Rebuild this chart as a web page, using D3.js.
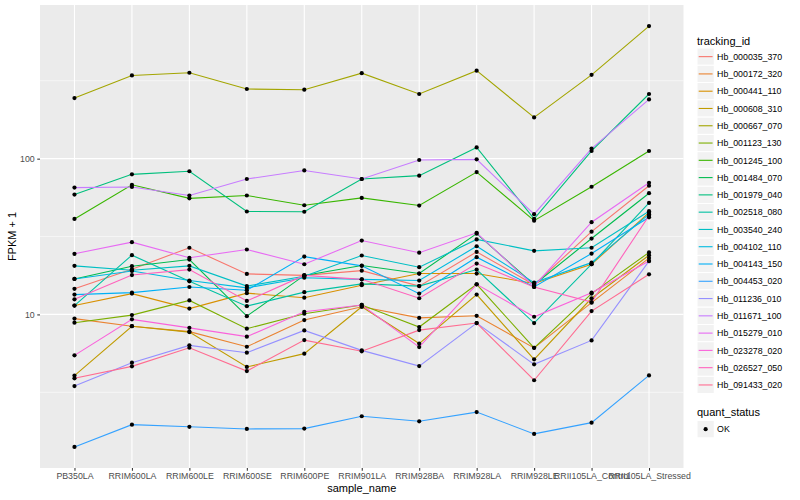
<!DOCTYPE html>
<html>
<head>
<meta charset="utf-8">
<script src="https://cdn.jsdelivr.net/npm/d3@7"></script>
<style>
  body { margin: 0; background: #fff; }
  text { font-family: "Liberation Sans", Arial, sans-serif; }
</style>
</head>
<body>
<div id="chart"></div>
<script>
// sample names along the x axis
var samples = ["PB350LA", "RRIM600LA", "RRIM600LE", "RRIM600SE", "RRIM600PE", "RRIM901LA",
  "RRIM928BA", "RRIM928LA", "RRIM928LE", "RRII105LA_Control", "RRII105LA_Stressed"];

var trackingIds = ["Hb_000035_370", "Hb_000172_320", "Hb_000441_110", "Hb_000608_310", "Hb_000667_070",
  "Hb_001123_130", "Hb_001245_100", "Hb_001484_070", "Hb_001979_040", "Hb_002518_080",
  "Hb_003540_240", "Hb_004102_110", "Hb_004143_150", "Hb_004453_020", "Hb_011236_010",
  "Hb_011671_100", "Hb_015279_010", "Hb_023278_020", "Hb_026527_050", "Hb_091433_020"];

// FPKM + 1, one array per tracking id (same order as samples)
var hb000035_370 = [14.6, 19.5, 26.8, 18.2, 17.8, 19.1, 15.2, 25.2, 15.5, 34.0, 67];
var hb000172_320 = [9.4, 8.4, 7.75, 6.2, 9.2, 11.2, 9.5, 9.8, 6.1, 11.9, 23];
var hb000441_110 = [11.4, 13.6, 10.9, 13.7, 12.8, 15.4, 18.3, 18.3, 15.8, 21.0, 45];
var hb000608_310 = [4.05, 8.4, 7.7, 4.6, 5.6, 11.2, 6.5, 13.4, 5.15, 12.7, 24];
var hb000667_070 = [245, 342, 356, 280, 277, 354, 260, 367, 184, 345, 710];
var hb001123_130 = [8.85, 9.9, 12.3, 8.1, 10.1, 11.5, 8.3, 15.6, 6.1, 13.6, 25];
var hb001245_100 = [41, 68, 55.6, 58, 50.2, 56, 50, 82, 40, 66, 112];
var hb001484_070 = [16.9, 20.4, 22.5, 9.75, 17.8, 20.6, 18.3, 33, 15.5, 30.7, 60];
var hb001979_040 = [58.8, 79.3, 83, 45.8, 45.6, 74, 77.8, 118, 41, 112, 260];
var hb002518_080 = [11.4, 24, 16.3, 11.3, 13.9, 15.7, 15.2, 19.4, 8.8, 21, 52];
var hb003540_240 = [20.5, 19.2, 20.5, 15.2, 17.6, 23.9, 20.1, 30.3, 25.6, 26.8, 46];
var hb004102_110 = [16.9, 19, 16.5, 14.8, 17.2, 16.8, 16.5, 27.4, 16, 21.5, 44];
var hb004143_150 = [13.4, 13.8, 15.0, 14.3, 23.5, 20.5, 13.6, 23.3, 15, 24.6, 42];
var hb004453_020 = [1.41, 1.96, 1.90, 1.84, 1.85, 2.22, 2.06, 2.36, 1.71, 2.02, 4.06];
var hb011236_010 = [3.47, 4.9, 6.33, 5.68, 7.89, 5.88, 4.66, 8.8, 4.78, 6.81, 22];
var hb011671_100 = [65.2, 65.8, 58, 74, 84, 74, 98, 99, 44, 116, 240];
var hb015279_010 = [24.5, 29.1, 23.1, 26.1, 21.0, 29.8, 24.9, 33.4, 15.2, 39.1, 70];
var hb023278_020 = [5.46, 9.3, 8.2, 7.2, 10.4, 11.5, 6.17, 15.6, 9.66, 13.8, 22];
var hb026527_050 = [12.5, 17.9, 19.4, 12.2, 17.8, 16.8, 12.7, 21.2, 15, 12.0, 43];
var hb091433_020 = [3.89, 4.64, 6.11, 4.33, 6.84, 5.8, 7.93, 8.8, 3.78, 10.5, 18.1];

var seriesValues = [hb000035_370, hb000172_320, hb000441_110, hb000608_310, hb000667_070,
  hb001123_130, hb001245_100, hb001484_070, hb001979_040, hb002518_080,
  hb003540_240, hb004102_110, hb004143_150, hb004453_020, hb011236_010,
  hb011671_100, hb015279_010, hb023278_020, hb026527_050, hb091433_020];

var quantStatus = ["OK"];

// ggplot-style hue palette
var huePalette = ["#F8766D", "#EA8331", "#D89000", "#C09B00", "#A3A500", "#7CAE00", "#39B600",
  "#00BB4E", "#00BF7D", "#00C1A3", "#00BFC4", "#00BAE0", "#00B0F6", "#35A2FF", "#9590FF",
  "#C77CFF", "#E76BF3", "#FA62DB", "#FF62BC", "#FF6C91"];

var width = 800;
var height = 500;
var panel = { left: 40, right: 683.5, top: 5, bottom: 468 };

var svg = d3.select("#chart")
  .append("svg")
  .attr("width", width)
  .attr("height", height);

var series = trackingIds.map(function(id, i) {
  return {
    id: id,
    color: huePalette[i],
    points: samples.map(function(s, j) { return { sample: s, value: seriesValues[i][j] }; })
  };
});

// log y with 5% expansion, like scale_y_log10
var allVals = d3.merge(seriesValues);
var lmin = Math.log10(d3.min(allVals));
var lmax = Math.log10(d3.max(allVals));
var pad = (lmax - lmin) * 0.05;

var yScale = d3.scaleLog()
  .domain([Math.pow(10, lmin - pad), Math.pow(10, lmax + pad)])
  .range([panel.bottom, panel.top]);

var xScale = d3.scalePoint()
  .domain(samples)
  .range([panel.left, panel.right])
  .padding(0.6);

// panel background
svg.append("rect")
  .attr("x", panel.left)
  .attr("y", panel.top)
  .attr("width", panel.right - panel.left)
  .attr("height", panel.bottom - panel.top)
  .attr("fill", "#EBEBEB");

// minor grid (half decades)
var minorY = [Math.sqrt(10), Math.sqrt(1000), Math.sqrt(100000)].filter(function(v) {
  return v > yScale.domain()[0] && v < yScale.domain()[1];
});
svg.selectAll(".minor")
  .data(minorY).enter()
  .append("line")
  .attr("x1", panel.left).attr("x2", panel.right)
  .attr("y1", function(d) { return yScale(d); })
  .attr("y2", function(d) { return yScale(d); })
  .attr("stroke", "#fff").attr("stroke-width", 0.55);

var majorY = [1, 10, 100, 1000].filter(function(v) {
  return v > yScale.domain()[0] && v < yScale.domain()[1];
});
svg.selectAll(".majorY")
  .data(majorY).enter()
  .append("line")
  .attr("x1", panel.left).attr("x2", panel.right)
  .attr("y1", function(d) { return yScale(d); })
  .attr("y2", function(d) { return yScale(d); })
  .attr("stroke", "#fff").attr("stroke-width", 1.1);

svg.selectAll(".majorX")
  .data(samples).enter()
  .append("line")
  .attr("x1", function(d) { return xScale(d); })
  .attr("x2", function(d) { return xScale(d); })
  .attr("y1", panel.top).attr("y2", panel.bottom)
  .attr("stroke", "#fff").attr("stroke-width", 1.1);

// axes
var xAxis = d3.axisBottom(xScale).tickSizeInner(2.75).tickSizeOuter(0).tickPadding(2.5);
var yAxis = d3.axisLeft(yScale).tickValues(majorY).tickFormat(d3.format("d"))
  .tickSizeInner(2.75).tickSizeOuter(0).tickPadding(2.5);

var gx = svg.append("g")
  .attr("transform", "translate(0," + panel.bottom + ")")
  .call(xAxis);
var gy = svg.append("g")
  .attr("transform", "translate(" + panel.left + ",0)")
  .call(yAxis);

[gx, gy].forEach(function(g) {
  g.select(".domain").remove();
  g.selectAll(".tick line").attr("stroke", "#333333").attr("stroke-width", 1.05);
  g.selectAll(".tick text")
    .attr("fill", "#4D4D4D")
    .style("font-size", "8.8px")
    .style("font-family", "Liberation Sans, Arial, sans-serif");
});

svg.append("text")
  .attr("x", (panel.left + panel.right) / 2)
  .attr("y", 492)
  .attr("text-anchor", "middle")
  .style("font-size", "11px")
  .text("sample_name");

svg.append("text")
  .attr("transform", "translate(16," + ((panel.top + panel.bottom) / 2) + ")rotate(-90)")
  .attr("text-anchor", "middle")
  .style("font-size", "11px")
  .text("FPKM + 1");

// lines
var line = d3.line()
  .x(function(d) { return xScale(d.sample); })
  .y(function(d) { return yScale(d.value); });

svg.append("g")
  .selectAll("path")
  .data(series).enter()
  .append("path")
  .attr("d", function(d) { return line(d.points); })
  .attr("fill", "none")
  .attr("stroke", function(d) { return d.color; })
  .attr("stroke-width", 1.1);

// points
svg.append("g")
  .selectAll("g")
  .data(series).enter()
  .append("g")
  .selectAll("circle")
  .data(function(d) { return d.points; }).enter()
  .append("circle")
  .attr("cx", function(d) { return xScale(d.sample); })
  .attr("cy", function(d) { return yScale(d.value); })
  .attr("r", 2.1)
  .attr("fill", "#000");

// legend: tracking_id
var legendX = 697;
var keySize = 17.28;
var legend = svg.append("g");

legend.append("text")
  .attr("x", legendX)
  .attr("y", 44.5)
  .style("font-size", "11px")
  .text("tracking_id");

var keys = legend.selectAll(".key")
  .data(series).enter()
  .append("g")
  .attr("transform", function(d, i) { return "translate(" + legendX + "," + (48 + i * keySize) + ")"; });

keys.append("rect")
  .attr("width", keySize).attr("height", keySize)
  .attr("fill", "#F2F2F2").attr("stroke", "#fff").attr("stroke-width", 1);

keys.append("line")
  .attr("x1", 1.7).attr("x2", keySize - 1.7)
  .attr("y1", keySize / 2).attr("y2", keySize / 2)
  .attr("stroke", function(d) { return d.color; })
  .attr("stroke-width", 1.1);

keys.append("text")
  .attr("x", keySize + 2.8)
  .attr("y", keySize / 2 + 3.2)
  .style("font-size", "8.8px")
  .text(function(d) { return d.id; });

// legend: quant_status
legend.append("text")
  .attr("x", legendX)
  .attr("y", 416)
  .style("font-size", "11px")
  .text("quant_status");

var qkeys = legend.selectAll(".qkey")
  .data(quantStatus).enter()
  .append("g")
  .attr("transform", function(d, i) { return "translate(" + legendX + "," + (420.5 + i * keySize) + ")"; });

qkeys.append("rect")
  .attr("width", keySize).attr("height", keySize)
  .attr("fill", "#F2F2F2").attr("stroke", "#fff").attr("stroke-width", 1);

qkeys.append("circle")
  .attr("cx", keySize / 2).attr("cy", keySize / 2)
  .attr("r", 2.1).attr("fill", "#000");

qkeys.append("text")
  .attr("x", keySize + 2.8)
  .attr("y", keySize / 2 + 3.2)
  .style("font-size", "8.8px")
  .text(function(d) { return d; });
</script>
</body>
</html>
